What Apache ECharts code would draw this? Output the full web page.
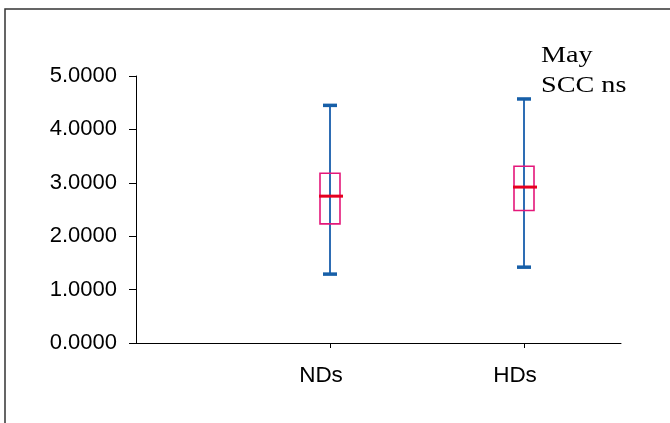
<!DOCTYPE html>
<html>
<head>
<meta charset="utf-8">
<script src="https://cdn.jsdelivr.net/npm/echarts@6/dist/echarts.min.js"></script>
<style>
  html, body { margin: 0; padding: 0; background: #fff; }
  #main { width: 670px; height: 423px; }
</style>
</head>
<body>
<div id="main"></div>
<script>
// groups and box statistics
const categories = ['NDs', 'HDs']
const mins = [1.29, 1.42]
const q1s = [2.23, 2.48]
const medians = [2.75, 2.92]
const q3s = [3.18, 3.31]
const maxs = [4.45, 4.57]
const yTicks = [0, 1, 2, 3, 4, 5]

const chart = echarts.init(document.getElementById('main'))

// box i sits at x = i + 1 on a 0..2.5 axis
const rows = categories.map((c, i) => [i + 1, mins[i], q1s[i], medians[i], q3s[i], maxs[i]])

function renderBox(params, api) {
    const x = api.value(0)
    const lo = api.coord([x, api.value(1)])
    const b1 = api.coord([x, api.value(2)])
    const md = api.coord([x, api.value(3)])
    const b3 = api.coord([x, api.value(4)])
    const hi = api.coord([x, api.value(5)])
    const cx = lo[0]
    return {
        type: 'group',
        children: [
            { type: 'line', shape: { x1: cx, y1: hi[1], x2: cx, y2: lo[1] },
              style: { stroke: '#2e6db4', lineWidth: 2 } },
            { type: 'rect', shape: { x: cx - 10, y: b3[1], width: 20, height: b1[1] - b3[1] },
              style: { fill: 'none', stroke: '#e4177a', lineWidth: 1.6 } },
            { type: 'line', shape: { x1: cx - 11, y1: md[1], x2: cx + 13, y2: md[1] },
              style: { stroke: '#e60020', lineWidth: 3 } },
            { type: 'line', shape: { x1: cx - 7, y1: hi[1], x2: cx + 7, y2: hi[1] },
              style: { stroke: '#175fa8', lineWidth: 3.5 } },
            { type: 'line', shape: { x1: cx - 7, y1: lo[1], x2: cx + 7, y2: lo[1] },
              style: { stroke: '#175fa8', lineWidth: 3.5 } }
        ]
    }
}

const option = {
    backgroundColor: '#fff',
    animation: false,
    textStyle: { fontFamily: 'Liberation Sans' },
    grid: { left: 136, right: 49, top: 76, bottom: 80 },
    xAxis: {
        type: 'value',
        min: 0,
        max: 2.5,
        splitLine: { show: false },
        axisLine: { show: true, lineStyle: { color: '#000', width: 1 } },
        axisTick: { show: true, length: 5, customValues: [1, 2], lineStyle: { color: '#000' } },
        axisLabel: {
            customValues: [1, 2],
            formatter: v => categories[Math.round(v) - 1] || '',
            color: '#000', fontSize: 22.5, margin: 21,
            padding: [0, 18, 0, 0]
        }
    },
    yAxis: {
        type: 'value',
        min: yTicks[0],
        max: yTicks[yTicks.length - 1],
        interval: 1,
        splitLine: { show: false },
        axisLine: { show: true, lineStyle: { color: '#000', width: 1 } },
        axisTick: { show: true, length: 7, lineStyle: { color: '#000' } },
        axisLabel: {
            formatter: v => v.toFixed(4),
            color: '#000', fontSize: 22, margin: 19
        }
    },
    series: [{
        type: 'custom',
        renderItem: renderBox,
        encode: { x: 0, y: [1, 2, 3, 4, 5] },
        data: rows
    }],
    graphic: [
        { type: 'rect', z: 0,
          shape: { x: 5, y: 9, width: 700, height: 450 },
          style: { fill: 'none', stroke: '#333', lineWidth: 1.5 } },
        { type: 'text', x: 541, y: 41, scaleX: 1.2,
          style: { text: 'May\nSCC ns', font: '23.5px "Liberation Serif"', lineHeight: 30, fill: '#000' } }
    ]
}

chart.setOption(option)
</script>
</body>
</html>
